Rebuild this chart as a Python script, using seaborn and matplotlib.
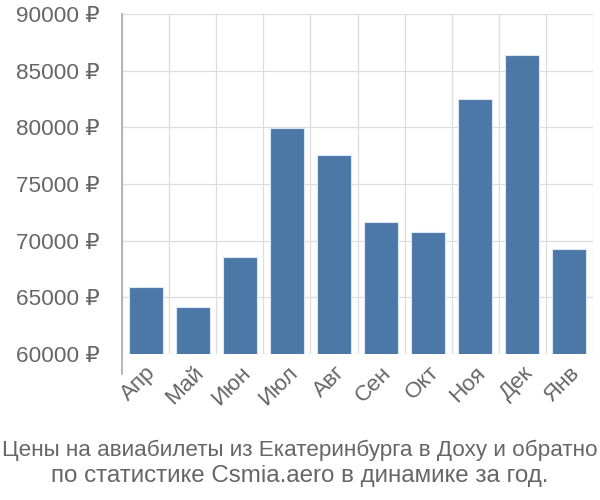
import matplotlib
matplotlib.use("Agg")
import matplotlib.pyplot as plt
import seaborn as sns
import pandas as pd
from matplotlib.ticker import FixedLocator, FuncFormatter

months = ["Апр", "Май", "Июн", "Июл", "Авг", "Сен", "Окт", "Ноя", "Дек", "Янв"]
prices = [65880, 64120, 68560, 79950, 77560, 71680, 70790, 82500, 86360, 69290]
y_ticks = [60000, 65000, 70000, 75000, 80000, 85000, 90000]
title_lines = ["Цены на авиабилеты из Екатеринбурга в Доху и обратно",
               "по статистике Csmia.aero в динамике за год."]

sns.set_style("white")
plt.rcParams['font.family'] = ['Liberation Sans', 'DejaVu Sans']

df = pd.DataFrame({"month": months, "price": prices})

fig = plt.figure(figsize=(6, 5), dpi=100)
ax = fig.add_axes([122/600, 1-354/500, (593-122)/600, (354-14)/500])

sns.barplot(data=df, x="month", y="price", ax=ax, color="#4c78a8", saturation=1,
            width=0.72, edgecolor="#dde6f2", linewidth=0.8, zorder=3)

ax.set_ylim(60000, 90000)
ax.set_xlim(-0.5, len(months) - 0.5)
ax.set_xlabel("")
ax.set_ylabel("")

grid_c = "#dddddd"
tick_c = "#666666"
tl = 14.4  # 20 px in points
ax.set_yticks(y_ticks)
ax.yaxis.set_major_formatter(FuncFormatter(lambda v, p: f"{int(v)} ₽"))
ax.tick_params(axis="y", length=tl, width=0.9, color=grid_c, labelsize=16.2, labelcolor=tick_c, pad=1.5)
ax.yaxis.grid(True, color=grid_c, linewidth=0.9, zorder=0)

ax.xaxis.set_minor_locator(FixedLocator([i - 0.5 for i in range(len(months) + 1)]))
ax.tick_params(axis="x", which="minor", length=tl, width=0.9, color=grid_c)
ax.tick_params(axis="x", which="major", length=0, labelsize=16.2, labelcolor=tick_c, pad=6)
ax.xaxis.grid(True, which="minor", color=grid_c, linewidth=0.9, zorder=0)
for lab in ax.get_xticklabels():
    lab.set_rotation(45)
    lab.set_ha("right")
    lab.set_rotation_mode("anchor")

for s in ["top", "right", "bottom"]:
    ax.spines[s].set_visible(False)
ax.spines["left"].set_color("#aaaaaa")
ax.spines["left"].set_linewidth(1.2)
ax.spines["left"].set_bounds(60000 - 20 * 30000 / 340, 90000)
ax.set_axisbelow(True)

fig.text(0.5, 1 - 456/500, title_lines[0], ha="center", va="baseline", fontsize=16.2,
         color="#666666")
fig.text(0.5, 1 - 482/500, title_lines[1], ha="center", va="baseline", fontsize=17.4,
         color="#666666")

fig.savefig("out.png", dpi=100, facecolor="white")
